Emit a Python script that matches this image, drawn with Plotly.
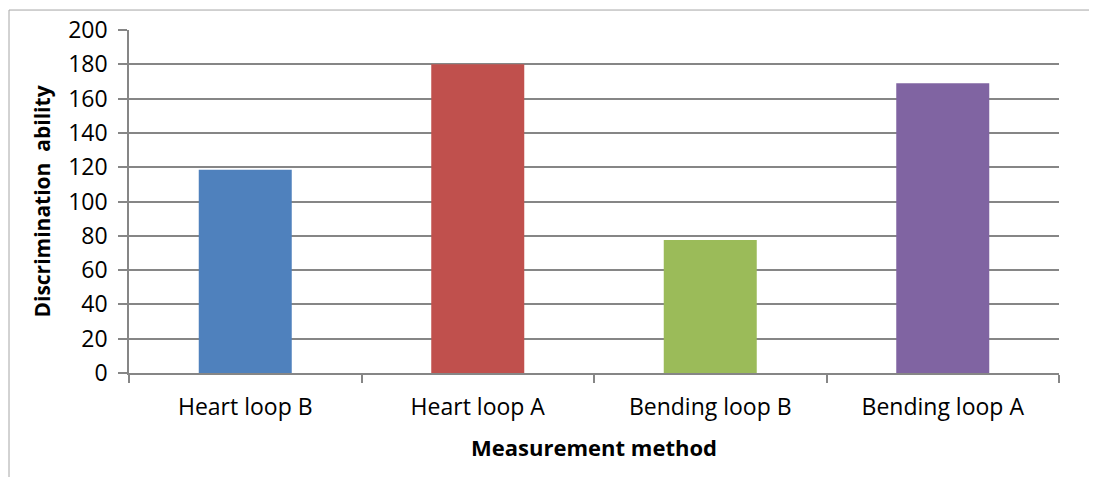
import plotly.graph_objects as go

categories = ["Heart loop B", "Heart loop A", "Bending loop B", "Bending loop A"]
values = [118.5, 180, 77.5, 169]
colors = ["#4F81BD", "#C0504D", "#9BBB59", "#8064A2"]
y_ticks = [0, 20, 40, 60, 80, 100, 120, 140, 160, 180, 200]

FONT = "Open Sans"
GRID = "#868686"

fig = go.Figure(go.Bar(x=categories, y=values, marker=dict(color=colors, line=dict(width=0)),
                       showlegend=False))

fig.update_layout(
    width=1097, height=477,
    margin=dict(l=121, r=46, t=21.5, b=111.7),
    paper_bgcolor="white", plot_bgcolor="white",
    bargap=0.6,
    font=dict(family=FONT, size=22, color="black"),
)

fig.update_yaxes(
    range=[0, 200], tickvals=y_ticks, ticktext=[str(v) for v in y_ticks],
    automargin=False,
    showgrid=True, gridcolor=GRID, gridwidth=1.5,
    showline=True, linecolor=GRID, linewidth=1.5,
    ticks="outside", ticklen=9, tickcolor=GRID, tickwidth=1.5,
    ticklabelstandoff=6,
    tickfont=dict(family=FONT, size=23),
    zeroline=False,
    title=dict(text="Discrimination\u00a0 ability", font=dict(family=FONT, size=21, weight="bold"), standoff=12),
)
fig.update_xaxes(
    automargin=False,
    showline=True, linecolor=GRID, linewidth=1.5,
    ticks="outside", tickson="boundaries", ticklen=8, tickcolor=GRID, tickwidth=1.5,
    tickfont=dict(family=FONT, size=23),
    ticklabelstandoff=13,
    title=dict(text="Measurement method", font=dict(family=FONT, size=22, weight="bold"), standoff=19),
)

# outer chart border
fig.add_shape(type="rect", xref="paper", yref="paper",
              x0=(9 - 129) / 930, x1=(1110 - 129) / 930,
              y0=(373.3 - 490) / 343.8, y1=(373.3 - 9.5) / 343.8,
              line=dict(color="#A6A6A6", width=1), fillcolor="rgba(0,0,0,0)", layer="below")

fig.write_html("out.html")
